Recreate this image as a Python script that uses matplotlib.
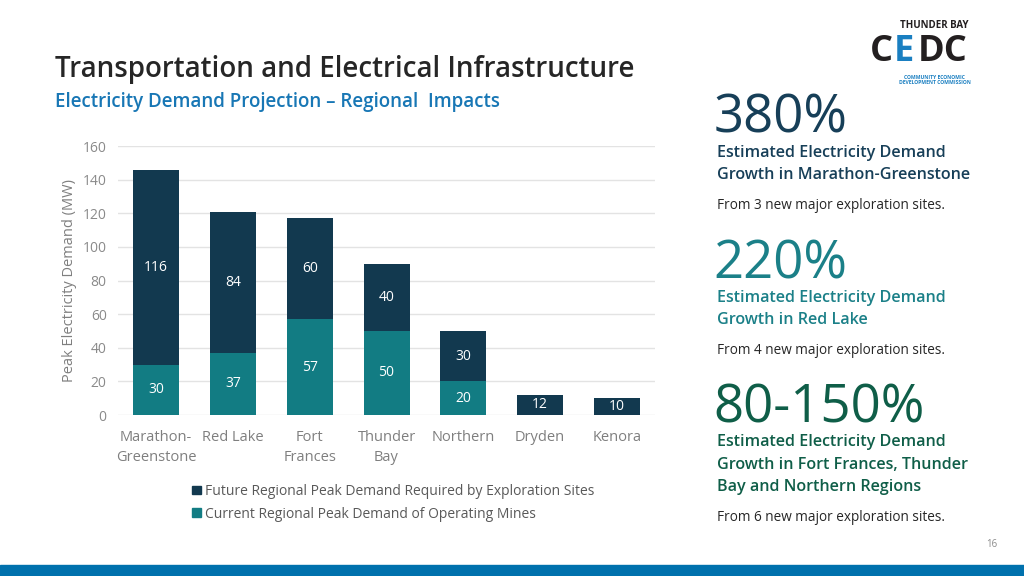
import numpy as np
import matplotlib.pyplot as plt
from matplotlib.patches import Rectangle, Patch

plt.rcParams['font.family'] = ['Open Sans', 'DejaVu Sans']

regions = ["Marathon-\nGreenstone", "Red Lake", "Fort\nFrances", "Thunder\nBay", "Northern", "Dryden", "Kenora"]
current = [30, 37, 57, 50, 20, 0, 0]
future = [116, 84, 60, 40, 30, 12, 10]

navy = "#12394f"
teal = "#127c83"
grey = "#7f7f7f"

fig = plt.figure(figsize=(10.24, 5.76), dpi=100)
ax = fig.add_axes([0.115, 0.2795, 0.525, 0.467])

x = np.arange(len(regions))
ax.bar(x, current, width=0.6, color=teal)
ax.bar(x, future, width=0.6, bottom=current, color=navy)

for i in range(len(regions)):
    if current[i] > 0:
        ax.text(x[i], current[i] / 2, str(current[i]), ha='center', va='center', color='white', fontsize=10)
    ax.text(x[i], current[i] + future[i] / 2, str(future[i]), ha='center', va='center', color='white', fontsize=10)

ax.set_ylim(0, 160)
ax.set_xlim(-0.5, 6.5)
ax.set_yticks(range(0, 161, 20))
ax.set_xticks(x)
ax.set_xticklabels(regions, fontsize=10.5, color=grey, linespacing=1.45)
ax.tick_params(axis='y', labelsize=10, colors='#8a8a8a', length=0, pad=8)
ax.tick_params(axis='x', length=0, pad=11)
ax.grid(axis='y', color='#e3e3e3', linewidth=1)
ax.set_axisbelow(True)
for s in ax.spines.values():
    s.set_visible(False)
ax.set_ylabel("Peak Electricity Demand (MW)", fontsize=10.5, color=grey, labelpad=4)

handles = [Patch(color=navy), Patch(color=teal)]
fig.legend(handles, ["Future Regional Peak Demand Required by Exploration Sites",
                     "Current Regional Peak Demand of Operating Mines"],
           loc='upper left', bbox_to_anchor=(0.181, 0.172), frameon=False,
           fontsize=10, labelcolor='#595959', handlelength=0.6, handleheight=0.6,
           handletextpad=0.35, labelspacing=0.55, borderpad=0)

# titles
fig.text(0.054, 0.88, "Transportation and Electrical Infrastructure", fontsize=20,
         fontweight='semibold', color='#262626', va='center')
fig.text(0.054, 0.823, "Electricity Demand Projection \u2013 Regional  Impacts", fontsize=13.5,
         fontweight='semibold', color='#1877b5', va='center')

# right panel
blocks = [
    (0.793, "380%", "#173f58", ["Estimated Electricity Demand", "Growth in Marathon-Greenstone"],
     "From 3 new major exploration sites."),
    (0.541, "220%", "#1b8088", ["Estimated Electricity Demand", "Growth in Red Lake"],
     "From 4 new major exploration sites."),
    (0.29, "80-150%", "#0f5e48", ["Estimated Electricity Demand", "Growth in Fort Frances, Thunder",
                                  "Bay and Northern Regions"],
     "From 6 new major exploration sites."),
]
for y0, big, col, lines, note in blocks:
    fig.text(0.697, y0, big, fontsize=38, color=col, va='center', fontweight='medium')
    yy = y0 - 0.058
    for ln in lines:
        fig.text(0.7, yy, ln, fontsize=11.6, fontweight='semibold', color=col, va='center')
        yy -= 0.039
    fig.text(0.7, yy - 0.013, note, fontsize=9.8, color='#262626', va='center')

# logo
fig.text(0.912, 0.955, "THUNDER BAY", fontsize=7, fontweight='bold', color='#231f20', ha='center', va='center')
fig.text(0.849, 0.91, "C", fontsize=26, fontweight='bold', color='#231f20', va='center')
fig.text(0.873, 0.91, "E", fontsize=26, fontweight='bold', color='#1a7fc1', va='center')
fig.text(0.896, 0.91, "DC", fontsize=26, fontweight='bold', color='#231f20', va='center')
fig.text(0.913, 0.866, "COMMUNITY ECONOMIC", fontsize=3.6, fontweight='bold', color='#1a7fc1', ha='center', va='center')
fig.text(0.913, 0.856, "DEVELOPMENT COMMISSION", fontsize=3.6, fontweight='bold', color='#1a7fc1', ha='center', va='center')

fig.text(0.968, 0.054, "16", fontsize=7, color='#8c8c8c', ha='center', va='center')
fig.patches.append(Rectangle((0, 0), 1, 0.019, transform=fig.transFigure, color='#0071ad'))

fig.savefig("out.png", dpi=100)
